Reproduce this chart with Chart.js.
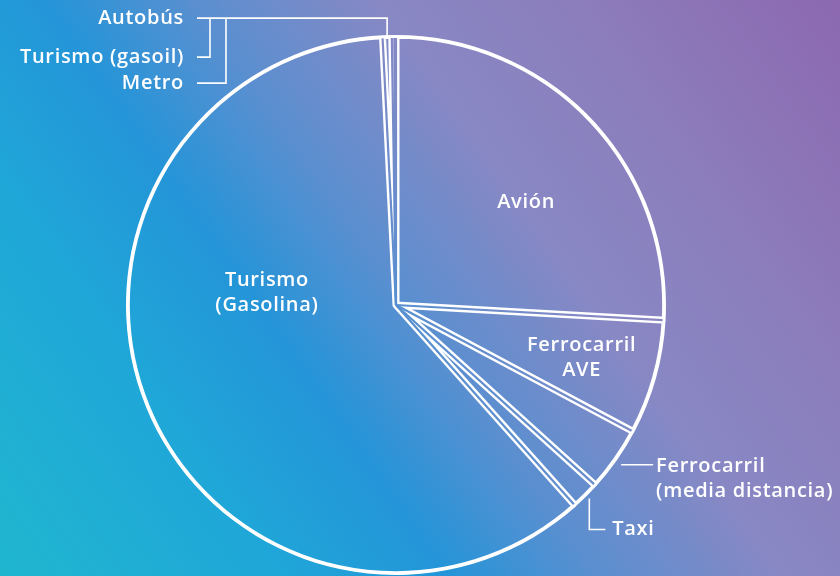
<!DOCTYPE html>
<html>
<head>
<meta charset="utf-8">
<script src="https://cdn.jsdelivr.net/npm/chart.js@4.4.1/dist/chart.umd.min.js"></script>
<style>
  html, body { margin: 0; padding: 0; }
  body {
    width: 840px;
    height: 576px;
    overflow: hidden;
    background: linear-gradient(55deg, #20b6cf 0%, #1fa7d8 22%, #2495d8 36%, #5a8fd0 48%, #8888c4 63%, #8c7cbb 80%, #8c68b0 100%);
  }
  #chart { display: block; }
</style>
</head>
<body>
<canvas id="chart" width="840" height="576"></canvas>
<script>
// Clockwise from 12 o'clock
const categories = [
  'Avión',
  'Ferrocarril AVE',
  'Ferrocarril (media distancia)',
  'Taxi',
  'Turismo (Gasolina)',
  'Metro',
  'Turismo (gasoil)',
  'Autobús'
];
const shares = [25.9, 6.9, 3.9, 1.7, 60.8, 0.55, 0.15, 0.1];

const FONT = '600 20px "Open Sans", sans-serif';
const LINE_H = 25;

// labels sitting inside their slice: polar position around the pie centre
const innerLabels = [
  { index: 0, lines: ['Avión'], angle: -38.4, radius: 0.615 },
  { index: 1, lines: ['Ferrocarril', 'AVE'], angle: 15.9, radius: 0.715 },
  { index: 4, lines: ['Turismo', '(Gasolina)'], angle: 185.3, radius: 0.48 }
];

const rad = d => d * Math.PI / 180;

// split the white slice borders into a double line by punching a thin gap
const splitBorders = {
  id: 'splitBorders',
  afterDatasetsDraw(chart) {
    const ctx = chart.ctx;
    const arcs = chart.getDatasetMeta(0).data;
    ctx.save();
    ctx.globalCompositeOperation = 'destination-out';
    ctx.lineWidth = 2.2;
    ctx.strokeStyle = '#000';
    arcs.forEach(a => {
      const r = a.outerRadius - 3;
      ctx.beginPath();
      ctx.moveTo(a.x, a.y);
      ctx.lineTo(a.x + Math.cos(a.startAngle) * r, a.y + Math.sin(a.startAngle) * r);
      ctx.stroke();
    });
    ctx.restore();
  }
};

function midPoint(arc, k) {
  const m = (arc.startAngle + arc.endAngle) / 2;
  return { x: arc.x + Math.cos(m) * arc.outerRadius * k, y: arc.y + Math.sin(m) * arc.outerRadius * k };
}

const sliceLabels = {
  id: 'sliceLabels',
  afterDraw(chart) {
    const ctx = chart.ctx;
    const arcs = chart.getDatasetMeta(0).data;
    const cx = arcs[0].x, cy = arcs[0].y, R = arcs[0].outerRadius;
    ctx.save();
    ctx.font = FONT;
    ctx.letterSpacing = '0.7px';
    ctx.fillStyle = '#ffffff';
    ctx.strokeStyle = '#ffffff';
    ctx.lineWidth = 1.6;
    ctx.textBaseline = 'middle';

    // inside labels
    ctx.textAlign = 'center';
    innerLabels.forEach(l => {
      const x = cx + Math.cos(rad(l.angle)) * R * l.radius;
      const y = cy + Math.sin(rad(l.angle)) * R * l.radius;
      const top = y - (l.lines.length - 1) * LINE_H / 2;
      l.lines.forEach((t, i) => ctx.fillText(t, x, top + i * LINE_H));
    });

    // Ferrocarril (media distancia): horizontal leader to the right
    const md = midPoint(arcs[2], 1.01);
    ctx.beginPath();
    ctx.moveTo(md.x + 2, md.y + 3);
    ctx.lineTo(md.x + 34, md.y + 3);
    ctx.stroke();
    ctx.textAlign = 'left';
    ctx.fillText('Ferrocarril', md.x + 37, md.y + 4);
    ctx.fillText('(media distancia)', md.x + 37, md.y + 4 + LINE_H);

    // Taxi: leader drops down then turns right
    const tx = midPoint(arcs[3], 1.0);
    ctx.beginPath();
    ctx.moveTo(tx.x + 3, tx.y + 2);
    ctx.lineTo(tx.x + 3, tx.y + 33);
    ctx.lineTo(tx.x + 19, tx.y + 33);
    ctx.stroke();
    ctx.fillText('Taxi', tx.x + 26, tx.y + 33);

    // the three thin slices at the top share one bracket leader
    const top = midPoint(arcs[5], 1.0);
    const busY = top.y - 17, gasY = busY + 39, metroY = busY + 65;
    const endX = 197, textX = 184;
    ctx.beginPath();
    ctx.moveTo(top.x, top.y + 1);
    ctx.lineTo(top.x, busY);
    ctx.lineTo(endX, busY);
    ctx.moveTo(endX + 13, busY);
    ctx.lineTo(endX + 13, gasY);
    ctx.lineTo(endX, gasY);
    ctx.moveTo(endX + 29, busY);
    ctx.lineTo(endX + 29, metroY);
    ctx.lineTo(endX, metroY);
    ctx.stroke();
    ctx.textAlign = 'right';
    ctx.fillText('Autobús', textX, busY);
    ctx.fillText('Turismo (gasoil)', textX, gasY);
    ctx.fillText('Metro', textX, metroY);
    ctx.restore();
  }
};

new Chart(document.getElementById('chart'), {
  type: 'pie',
  data: {
    labels: categories,
    datasets: [{
      data: shares,
      backgroundColor: 'rgba(0,0,0,0)',
      borderColor: '#ffffff',
      borderWidth: 3.5,
      borderAlign: 'inner',
      hoverOffset: 0
    }]
  },
  options: {
    responsive: false,
    animation: false,
    events: [],
    layout: { padding: { left: 126, right: 174, top: 35, bottom: 1 } },
    plugins: {
      legend: { display: false },
      tooltip: { enabled: false }
    }
  },
  plugins: [splitBorders, sliceLabels]
});
</script>
</body>
</html>
